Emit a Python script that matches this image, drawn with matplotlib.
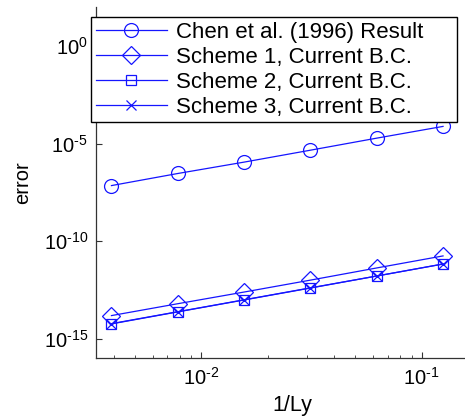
import numpy as np
import matplotlib
matplotlib.use('Agg')
import matplotlib.pyplot as plt
from matplotlib.ticker import FuncFormatter, NullLocator

plt.rcParams['font.family'] = ['Liberation Sans', 'DejaVu Sans']
plt.rcParams['mathtext.fontset'] = 'custom'
plt.rcParams['mathtext.rm'] = 'Liberation Sans'
plt.rcParams['mathtext.it'] = 'Liberation Sans:italic'
plt.rcParams['mathtext.default'] = 'regular'

# veri
inv_ly = [1/256, 1/128, 1/64, 1/32, 1/16, 1/8]
err_chen = [7.2e-8, 3.0e-7, 1.15e-6, 4.7e-6, 1.95e-5, 7.8e-5]
err_s1 = [1.55e-14, 6.3e-14, 2.5e-13, 1.02e-12, 4.3e-12, 1.78e-11]
err_s2 = [5.8e-15, 2.4e-14, 9.8e-14, 4.0e-13, 1.66e-12, 6.9e-12]
err_s3 = [6.0e-15, 2.45e-14, 1.0e-13, 4.1e-13, 1.66e-12, 6.8e-12]
labels = ['Chen et al. (1996) Result', 'Scheme 1, Current B.C.',
          'Scheme 2, Current B.C.', 'Scheme 3, Current B.C.']

W, H = 465, 419
fig = plt.figure(figsize=(W/100, H/100), dpi=100)
ax = fig.add_axes([96.3/W, (H-358.3)/H, (488-96.3)/W, (358.3-7.3)/H])

blue = '#1515ff'
ax.plot(inv_ly, err_chen, '-o', color=blue, lw=0.9, ms=10, mfc='none', mew=0.9, label=labels[0])
ax.plot(inv_ly, err_s1, '-D', color=blue, lw=0.9, ms=9.5, mfc='none', mew=0.9, label=labels[1])
ax.plot(inv_ly, err_s2, '-s', color=blue, lw=0.9, ms=7.5, mfc='none', mew=0.9, label=labels[2])
ax.plot(inv_ly, err_s3, '-x', color=blue, lw=0.9, ms=7, mew=0.9, label=labels[3])

ax.set_xscale('log')
ax.set_yscale('log')
ax.set_xlim(1/300, 0.2)
ax.set_ylim(1e-16, 1e2)
ax.set_yticks([1e-15, 1e-10, 1e-5, 1e0])
ax.yaxis.set_minor_locator(NullLocator())
ax.set_xticks([1e-2, 1e-1])

# MATLAB gibi kisa cizgi (hyphen) ile us
def us_etiket(v, pos):
    e = int(round(np.log10(v)))
    return r'$10^{\text{%d}}$' % e
ax.xaxis.set_major_formatter(FuncFormatter(us_etiket))
ax.yaxis.set_major_formatter(FuncFormatter(us_etiket))

for s in ['top', 'right']:
    ax.spines[s].set_visible(False)
for s in ['left', 'bottom']:
    ax.spines[s].set_color('#333333')
    ax.spines[s].set_linewidth(0.9)
ax.tick_params(which='both', direction='in', labelsize=14.5, color='#333333')
ax.tick_params(which='major', length=4, pad=6)
ax.tick_params(which='minor', length=2.5)

ax.set_xlabel('1/Ly', fontsize=15.5, labelpad=5)
ax.set_ylabel('error', fontsize=14.5, labelpad=8)

x0, x1 = 90.7/W, 457/W
leg = ax.legend(loc='upper left', bbox_to_anchor=(x0, 1-120.7/H, x1-x0, 104/H),
                bbox_transform=fig.transFigure, mode='expand', borderaxespad=0,
                fontsize=16, handlelength=3.2, handletextpad=0.4, labelspacing=0.18,
                borderpad=0.22, fancybox=False, framealpha=1, edgecolor='black')
leg.get_frame().set_linewidth(1.0)

fig.savefig('out.png', dpi=100)
